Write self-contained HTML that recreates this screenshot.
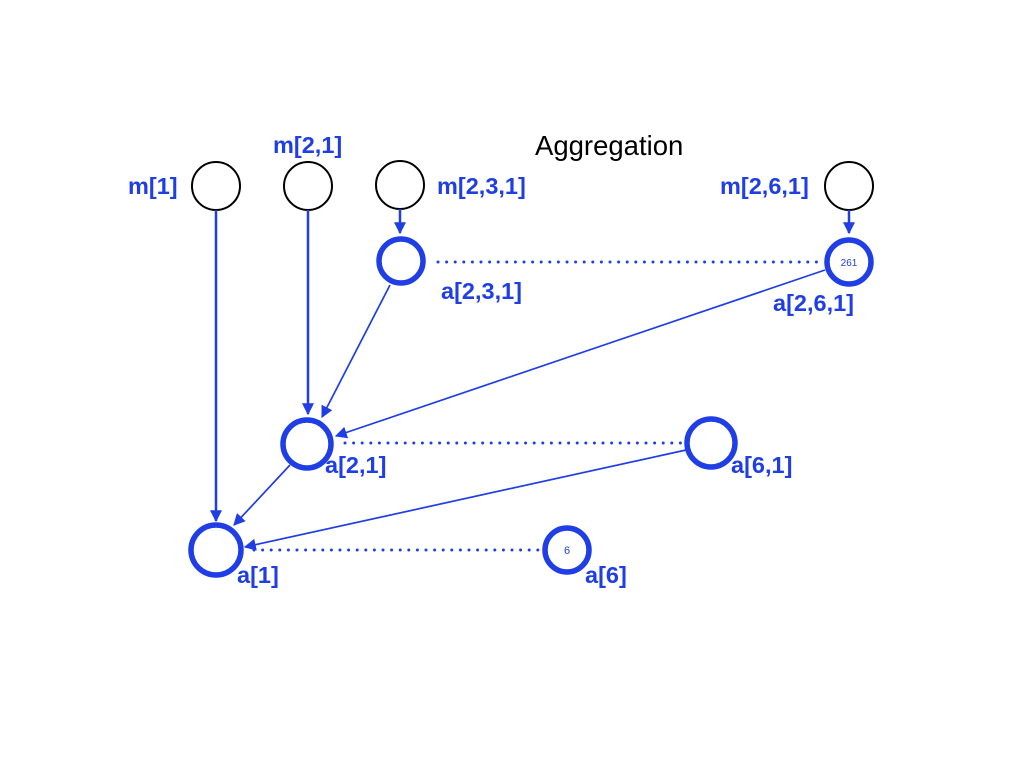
<!DOCTYPE html>
<html><head><meta charset="utf-8"><style>
html,body{margin:0;padding:0;background:#fff;}
svg{display:block;}
text{font-family:"Liberation Sans",Arial,sans-serif;}
.l{fill:#1f3ee6;font-weight:bold;font-size:23.5px;}
</style></head><body>
<svg width="1024" height="768" viewBox="0 0 1024 768" xmlns="http://www.w3.org/2000/svg">
<defs>
<marker id="ah2" viewBox="0 0 10 10" refX="9" refY="5" markerWidth="12" markerHeight="12" orient="auto" markerUnits="userSpaceOnUse">
<path d="M0,0 L10,5 L0,10 z" fill="#1f3ee6"/>
</marker>
</defs>
<text x="535" y="155" font-size="27.5" fill="#000">Aggregation</text>
<g fill="none" stroke="#000" stroke-width="2">
<circle cx="216" cy="186" r="24"/>
<circle cx="308" cy="186" r="24"/>
<circle cx="400" cy="185" r="24"/>
<circle cx="849" cy="186" r="24"/>
</g>
<g stroke="#1f3ee6" stroke-width="2.5" fill="none">
<line x1="216" y1="210" x2="216" y2="521" marker-end="url(#ah2)"/>
<line x1="308" y1="210" x2="308" y2="414" marker-end="url(#ah2)"/>
<line x1="400" y1="209" x2="400" y2="233" marker-end="url(#ah2)"/>
<line x1="849" y1="210" x2="849" y2="233" marker-end="url(#ah2)"/>
<line x1="390" y1="285" x2="322" y2="417" stroke-width="1.7" marker-end="url(#ah2)"/>
<line x1="825" y1="270" x2="336" y2="436" stroke-width="1.7" marker-end="url(#ah2)"/>
<line x1="290" y1="465" x2="234" y2="525" stroke-width="1.7" marker-end="url(#ah2)"/>
<line x1="686" y1="450" x2="245" y2="547" stroke-width="1.7" marker-end="url(#ah2)"/>
<line x1="438" y1="262" x2="822" y2="262" stroke-width="3" stroke-dasharray="0 8.6" stroke-linecap="round"/>
<line x1="345" y1="443" x2="684" y2="443" stroke-width="3" stroke-dasharray="0 8.6" stroke-linecap="round"/>
<line x1="254" y1="550" x2="540" y2="550" stroke-width="3" stroke-dasharray="0 8.6" stroke-linecap="round"/>
</g>
<g fill="#fff" stroke="#1f3ee6" stroke-width="5.5">
<circle cx="401" cy="261" r="22"/>
<circle cx="849" cy="262" r="22"/>
<circle cx="307" cy="444" r="24"/>
<circle cx="711" cy="443" r="24"/>
<circle cx="216" cy="550" r="25"/>
<circle cx="567" cy="550" r="22"/>
</g>
<text x="849" y="266" font-size="10" fill="#1f3ee6" text-anchor="middle">261</text>
<text x="567" y="554" font-size="11" fill="#1f3ee6" text-anchor="middle">6</text>
<text class="l" x="128" y="194">m[1]</text>
<text class="l" x="273" y="153">m[2,1]</text>
<text class="l" x="437" y="194">m[2,3,1]</text>
<text class="l" x="720" y="194">m[2,6,1]</text>
<text class="l" x="441" y="299">a[2,3,1]</text>
<text class="l" x="773" y="311">a[2,6,1]</text>
<text class="l" x="325" y="473">a[2,1]</text>
<text class="l" x="731" y="473">a[6,1]</text>
<text class="l" x="237" y="583">a[1]</text>
<text class="l" x="585" y="583">a[6]</text>
</svg>
</body></html>
